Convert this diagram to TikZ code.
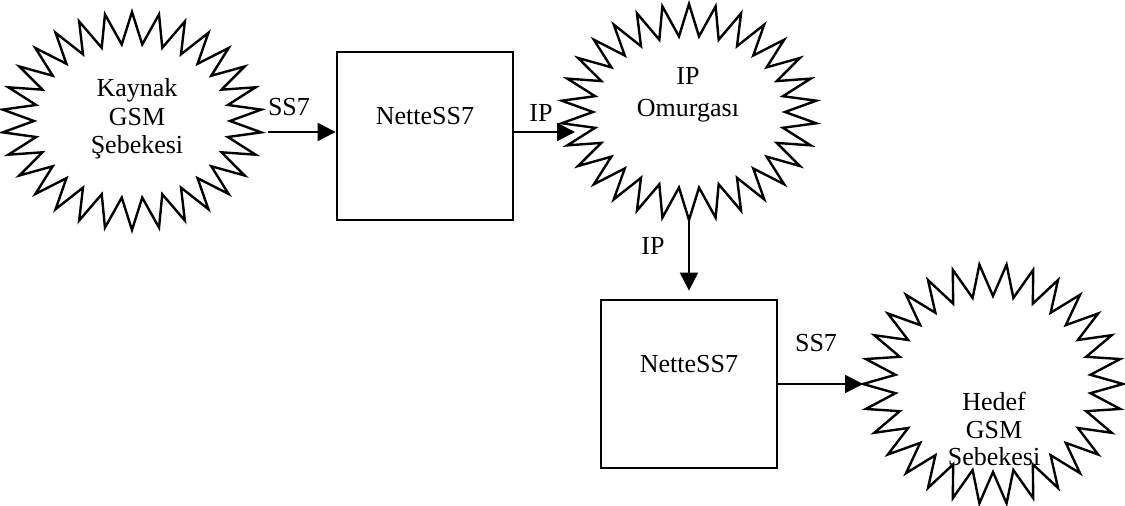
\documentclass[tikz,border=0pt]{standalone}
\usepackage{fontspec}
\setmainfont{Liberation Serif}
\usetikzlibrary{arrows.meta}

% Zig-zag "cloud": centre (#1,#2), outer radii #3/#4, spike depth #5,
% number of spikes #6, rotation offset #7 (degrees)
\newcommand{\zigstar}[7]{%
  \pgfmathtruncatemacro\zsLast{2*#6-1}%
  \draw[starline] plot[variable=\k, samples at={0,...,\zsLast}]
    ({#1+(#3-#5*isodd(\k))*cos(90+#7+\k*180/#6)},
     {#2-(#4-#5*isodd(\k))*sin(90+#7+\k*180/#6)}) -- cycle;}

\tikzset{
  starline/.style={line width=1.2pt, line join=miter},
  netbox/.style={draw, line width=1.4pt, minimum width=88pt, minimum height=84pt,
                 inner sep=0pt, text height=9pt, text depth=20pt},
  cloudtext/.style={align=center, inner sep=0pt},
  flow/.style={line width=1.1pt, -{Triangle[length=9pt,width=9pt]}},
  tag/.style={inner sep=0pt, anchor=base},
}

\begin{document}
\begin{tikzpicture}[x=0.5pt, y=-0.5pt, font=\fontsize{13}{14.25}\selectfont]
  \useasboundingbox (0,0) rectangle (1125,506);

  % networks
  \zigstar{132}{121}{130}{109}{32}{30}{0}
  \zigstar{689}{112}{128}{108}{32}{30}{0}
  \zigstar{993}{384}{130}{120}{32}{30}{6}

  \node[cloudtext] (src) at (137,119) {Kaynak\\GSM\\Şebekesi};
  \node[cloudtext, font=\fontsize{13}{16}\selectfont] (core) at (688,95) {IP\\Omurgası};
  \node[cloudtext, font=\fontsize{13}{13.75}\selectfont] (dst) at (994,429) {Hedef\\GSM\\Sebekesi};

  % gateways
  \node[netbox] (gw1) at (425,136) {NetteSS7};
  \node[netbox] (gw2) at (689,384) {NetteSS7};

  % attachment points on the cloud outlines
  \coordinate (srcE) at (268,132);
  \coordinate (coreW) at (575,132);
  \coordinate (coreS) at (689,220);
  \coordinate (dstW) at (863,384);

  % links
  \draw[flow] (srcE) -- (srcE -| gw1.west);
  \draw[flow] (gw1.east |- coreW) -- (coreW);
  \draw[flow, shorten >=4pt] (coreS) -- (coreS |- gw2.north);
  \draw[flow] (gw2.east |- dstW) -- (dstW);

  % link labels
  \node[tag] (l1) at (289,116) {SS7};
  \node[tag] (l2) at (541,122) {IP};
  \node[tag] (l3) at (653,255) {IP};
  \node[tag] (l4) at (816,352) {SS7};
\end{tikzpicture}
\end{document}
